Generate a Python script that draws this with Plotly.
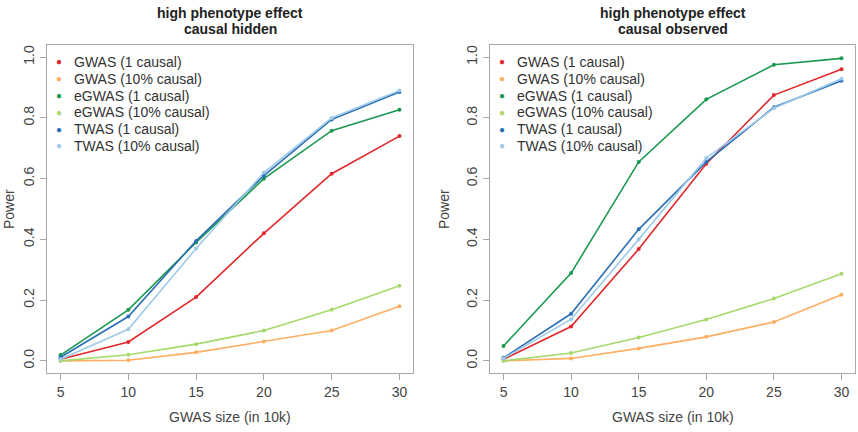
import plotly.graph_objects as go

sizes = [5, 10, 15, 20, 25, 30]
series_names = ["GWAS (1 causal)", "GWAS (10% causal)", "eGWAS (1 causal)",
                "eGWAS (10% causal)", "TWAS (1 causal)", "TWAS (10% causal)"]
colors = ["#E0282A", "#FDAE61", "#1A9850", "#A6D96A", "#2C6FB6", "#9ECAE9"]

# panel 1: causal hidden
gwas1_hidden = [0.005, 0.062, 0.21, 0.42, 0.616, 0.74]
gwas10_hidden = [0.0, 0.002, 0.028, 0.064, 0.10, 0.18]
egwas1_hidden = [0.019, 0.168, 0.39, 0.60, 0.758, 0.827]
egwas10_hidden = [0.0, 0.02, 0.055, 0.10, 0.168, 0.247]
twas1_hidden = [0.012, 0.146, 0.395, 0.61, 0.795, 0.885]
twas10_hidden = [0.005, 0.104, 0.37, 0.62, 0.80, 0.89]

# panel 2: causal observed
gwas1_obs = [0.005, 0.113, 0.368, 0.649, 0.875, 0.96]
gwas10_obs = [0.0, 0.008, 0.041, 0.079, 0.128, 0.218]
egwas1_obs = [0.049, 0.289, 0.655, 0.861, 0.975, 0.996]
egwas10_obs = [0.0, 0.026, 0.077, 0.136, 0.205, 0.287]
twas1_obs = [0.01, 0.155, 0.433, 0.655, 0.835, 0.922]
twas10_obs = [0.008, 0.137, 0.40, 0.668, 0.832, 0.929]

panel_title_lines = [["high phenotype effect", "causal hidden"],
                     ["high phenotype effect", "causal observed"]]
x_title = "GWAS size (in 10k)"
y_title = "Power"
x_ticks = [5, 10, 15, 20, 25, 30]
y_ticks = [0.0, 0.2, 0.4, 0.6, 0.8, 1.0]

panels = [
    [gwas1_hidden, gwas10_hidden, egwas1_hidden, egwas10_hidden, twas1_hidden, twas10_hidden],
    [gwas1_obs, gwas10_obs, egwas1_obs, egwas10_obs, twas1_obs, twas10_obs],
]

W, H = 858, 432
FONT = "Liberation Sans, Arial, Helvetica, sans-serif"
fig = go.Figure()

for p, data in enumerate(panels):
    xa = "x" if p == 0 else "x2"
    ya = "y" if p == 0 else "y2"
    for i, vals in enumerate(data):
        fig.add_trace(go.Scatter(
            x=sizes, y=vals, mode="lines+markers", xaxis=xa, yaxis=ya,
            name=series_names[i],
            line=dict(color=colors[i], width=1.6),
            marker=dict(color=colors[i], size=4),
            showlegend=False, hoverinfo="skip"))

# plot areas (pixels)
left_px = [(47, 413), (490, 855)]
ylab_px = [9, 444]
top_px, bot_px = 45, 373
ydom = [1 - bot_px / H, 1 - top_px / H]

axis_common = dict(
    showline=True, mirror=True, linecolor="#a8a8a8", linewidth=1.2,
    ticks="outside", ticklen=6, tickcolor="#a8a8a8", tickwidth=1.2,
    showgrid=False, zeroline=False,
    tickfont=dict(family=FONT, size=14, color="#444444"),
)

for p in range(2):
    sfx = "" if p == 0 else "2"
    x0, x1 = left_px[p]
    fig.update_layout(**{
        "xaxis" + sfx: dict(axis_common, domain=[x0 / W, x1 / W], range=[4, 31],
                           tickvals=x_ticks, ticktext=[str(v) for v in x_ticks],
                           anchor="y" + sfx),
        "yaxis" + sfx: dict(axis_common, domain=ydom, range=[-0.04, 1.04],
                           tickvals=y_ticks, ticktext=[f"{v:.1f}" for v in y_ticks],
                           tickangle=-90, anchor="x" + sfx),
    })
    cx = (x0 + x1) / 2 / W
    for k, line in enumerate(panel_title_lines[p]):
        fig.add_annotation(text=f"<b>{line}</b>", xref="paper", yref="paper",
                           x=cx, y=1 - (13 + 16 * k) / H, xanchor="center",
                           yanchor="middle", showarrow=False,
                           font=dict(family=FONT, size=14, color="#222222"))
    fig.add_annotation(text=x_title, xref="paper", yref="paper",
                       x=cx, y=1 - 417 / H, xanchor="center", yanchor="middle",
                       showarrow=False,
                       font=dict(family=FONT, size=14, color="#444444"))
    fig.add_annotation(text=y_title, xref="paper", yref="paper",
                       x=ylab_px[p] / W, y=1 - 209 / H, xanchor="center",
                       yanchor="middle", showarrow=False, textangle=-90,
                       font=dict(family=FONT, size=14, color="#444444"))
    # legend (top-left inside each panel, dots only, no box)
    for i, name in enumerate(series_names):
        yy = 1 - (62 + 16.75 * i) / H
        fig.add_annotation(text="●", xref="paper", yref="paper",
                           x=(x0 + 12) / W, y=yy, xanchor="center", yanchor="middle",
                           showarrow=False,
                           font=dict(family=FONT, size=10, color=colors[i]))
        fig.add_annotation(text=name, xref="paper", yref="paper",
                           x=(x0 + 25) / W, y=yy, xanchor="left", yanchor="middle",
                           showarrow=False,
                           font=dict(family=FONT, size=14, color="#333333"))

fig.update_layout(
    width=W, height=H, margin=dict(l=0, r=0, t=0, b=0),
    paper_bgcolor="white", plot_bgcolor="white",
    font=dict(family=FONT), showlegend=False,
)

fig.write_html("out.html")
